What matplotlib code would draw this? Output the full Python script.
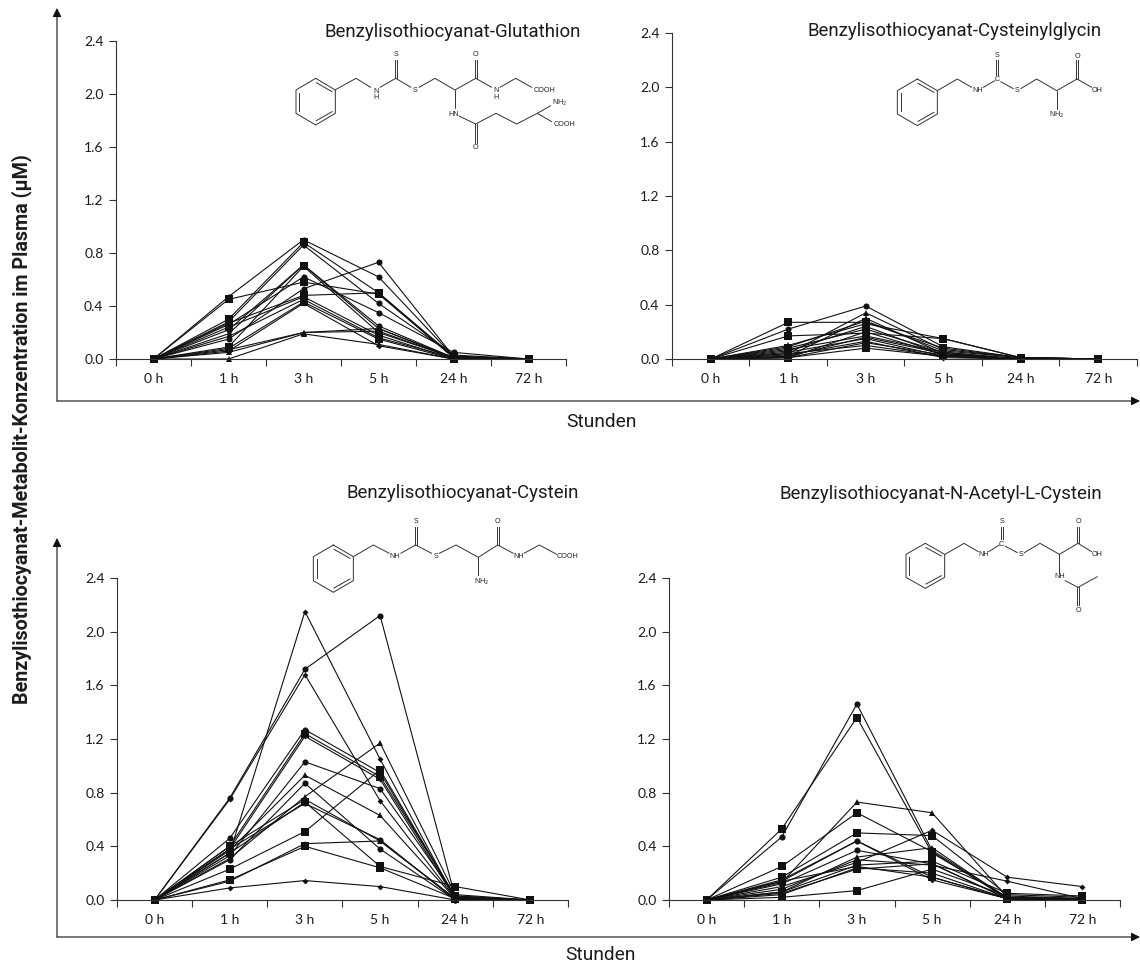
import matplotlib
matplotlib.use("Agg")
import matplotlib.pyplot as plt
from matplotlib.patches import FancyArrowPatch

W, H = 1140, 964
hours = ["0 h", "1 h", "3 h", "5 h", "24 h", "72 h"]
y_ticks = [0.0, 0.4, 0.8, 1.2, 1.6, 2.0, 2.4]

# values, one row per subject (0h, 1h, 3h, 5h, 24h, 72h)
glutathion = [
    [0, 0.47, 0.90, 0.62, 0.02, 0],
    [0, 0.28, 0.86, 0.42, 0.03, 0],
    [0, 0.22, 0.71, 0.25, 0.01, 0],
    [0, 0.15, 0.53, 0.73, 0.02, 0],
    [0, 0.26, 0.62, 0.35, 0.05, 0],
    [0, 0.07, 0.20, 0.23, 0.01, 0],
    [0, 0.05, 0.20, 0.21, 0.01, 0],
    [0, 0.19, 0.71, 0.23, 0.01, 0],
    [0, 0.17, 0.45, 0.16, 0.01, 0],
    [0, 0.06, 0.42, 0.10, 0.00, 0],
    [0, 0.00, 0.19, 0.11, 0.00, 0],
    [0, 0.45, 0.58, 0.49, 0.01, 0],
    [0, 0.30, 0.88, 0.50, 0.02, 0],
    [0, 0.09, 0.70, 0.20, 0.01, 0],
    [0, 0.27, 0.48, 0.50, 0.01, 0],
    [0, 0.24, 0.47, 0.18, 0.00, 0],
    [0, 0.08, 0.43, 0.15, 0.00, 0],
]
glutathion_markers = list("ooooo^^DDD^ssssss")

cysteinylglycin = [
    [0, 0.22, 0.39, 0.09, 0.01, 0],
    [0, 0.10, 0.26, 0.15, 0.01, 0],
    [0, 0.07, 0.17, 0.05, 0.00, 0],
    [0, 0.04, 0.34, 0.07, 0.01, 0],
    [0, 0.02, 0.30, 0.04, 0.00, 0],
    [0, 0.09, 0.28, 0.06, 0.01, 0],
    [0, 0.06, 0.24, 0.03, 0.00, 0],
    [0, 0.05, 0.15, 0.02, 0.00, 0],
    [0, 0.03, 0.13, 0.01, 0.00, 0],
    [0, 0.27, 0.27, 0.08, 0.01, 0],
    [0, 0.17, 0.19, 0.15, 0.01, 0],
    [0, 0.08, 0.22, 0.05, 0.00, 0],
    [0, 0.01, 0.20, 0.03, 0.00, 0],
    [0, 0.02, 0.16, 0.04, 0.00, 0],
    [0, 0.01, 0.12, 0.03, 0.00, 0],
    [0, 0.04, 0.10, 0.02, 0.00, 0],
    [0, 0.01, 0.08, 0.02, 0.00, 0],
]
cysteinylglycin_markers = list("o^^^^oDDDssssssss")

cystein = [
    [0, 0.35, 2.15, 1.05, 0.01, 0],
    [0, 0.76, 1.72, 2.12, 0.02, 0],
    [0, 0.75, 1.68, 0.74, 0.01, 0],
    [0, 0.46, 1.27, 0.95, 0.02, 0],
    [0, 0.38, 1.22, 0.90, 0.01, 0],
    [0, 0.33, 1.03, 0.83, 0.03, 0],
    [0, 0.37, 0.93, 0.63, 0.01, 0],
    [0, 0.30, 0.87, 0.38, 0.00, 0],
    [0, 0.31, 0.77, 1.17, 0.04, 0],
    [0, 0.40, 0.75, 0.44, 0.01, 0],
    [0, 0.38, 0.72, 0.45, 0.00, 0],
    [0, 0.14, 0.42, 0.44, 0.01, 0],
    [0, 0.09, 0.145, 0.10, 0.00, 0],
    [0, 0.40, 1.24, 0.92, 0.03, 0],
    [0, 0.35, 0.73, 0.25, 0.10, 0],
    [0, 0.23, 0.51, 0.97, 0.02, 0],
    [0, 0.15, 0.40, 0.24, 0.01, 0],
]
cystein_markers = list("DoDoDo^o^Do^Dssss")

acetylcystein = [
    [0, 0.47, 1.46, 0.37, 0.02, 0.01],
    [0, 0.13, 0.73, 0.65, 0.02, 0.01],
    [0, 0.15, 0.44, 0.15, 0.01, 0.00],
    [0, 0.14, 0.44, 0.17, 0.01, 0.00],
    [0, 0.12, 0.37, 0.27, 0.01, 0.00],
    [0, 0.10, 0.28, 0.52, 0.17, 0.10],
    [0, 0.08, 0.30, 0.26, 0.14, 0.01],
    [0, 0.06, 0.32, 0.39, 0.01, 0.00],
    [0, 0.04, 0.24, 0.20, 0.01, 0.00],
    [0, 0.53, 1.36, 0.35, 0.02, 0.01],
    [0, 0.25, 0.65, 0.36, 0.01, 0.00],
    [0, 0.17, 0.50, 0.48, 0.04, 0.02],
    [0, 0.02, 0.07, 0.23, 0.03, 0.01],
    [0, 0.06, 0.26, 0.29, 0.05, 0.03],
    [0, 0.14, 0.25, 0.17, 0.01, 0.00],
    [0, 0.05, 0.23, 0.27, 0.01, 0.00],
]
acetylcystein_markers = list("o^DooDD^D") + list("sssssss")

titles = ["Benzylisothiocyanat-Glutathion", "Benzylisothiocyanat-Cysteinylglycin",
          "Benzylisothiocyanat-Cystein", "Benzylisothiocyanat-N-Acetyl-L-Cystein"]

TEXT = "#1c1c1c"
COND = ["Roboto", "DejaVu Sans"]
plt.rcParams["font.family"] = ["Lato", "DejaVu Sans"]

fig = plt.figure(figsize=(W / 100, H / 100), dpi=100)

# overlay in pixel coordinates for the big axes, structures and free text
over = fig.add_axes([0, 0, 1, 1], zorder=5)
over.set_xlim(0, W)
over.set_ylim(H, 0)
over.axis("off")
over.patch.set_alpha(0)


def panel(left, right, top, bottom, rows, markers):
    ax = fig.add_axes([left / W, 1 - bottom / H, (right - left) / W, (bottom - top) / H])
    sizes = {"o": 4.4, "s": 5.2, "^": 4.6, "D": 3.0}
    for row, m in zip(rows, markers):
        ax.plot(range(len(hours)), row, color="#111111", lw=0.8, marker=m,
                ms=sizes[m], mew=0, clip_on=False)
    ax.set_xlim(-0.5, 5.5)
    ax.set_ylim(0, 2.4)
    ax.set_yticks(y_ticks)
    ax.set_yticklabels([f"{t:.1f}" for t in y_ticks], fontsize=10, color=TEXT)
    ax.set_xticks([i - 0.5 for i in range(7)])
    ax.set_xticklabels([])
    ax.tick_params(length=5, width=0.8, color="#333333", pad=4)
    for i, h in enumerate(hours):
        ax.text(i, -14 / (bottom - top), h, fontsize=10, color=TEXT, ha="center", va="top",
                transform=ax.get_xaxis_transform())
    for s in ["top", "right"]:
        ax.spines[s].set_visible(False)
    for s in ["left", "bottom"]:
        ax.spines[s].set_linewidth(0.8)
        ax.spines[s].set_color("#333333")
    return ax


panel(116, 566, 41, 359, glutathion, glutathion_markers)
panel(672, 1137, 33, 359, cysteinylglycin, cysteinylglycin_markers)
panel(117, 568, 578, 900, cystein, cystein_markers)
panel(669, 1120, 578, 900, acetylcystein, acetylcystein_markers)


def big_arrow(x0, y0, x1, y1):
    over.add_patch(FancyArrowPatch((x0, y0), (x1, y1), arrowstyle="-|>", mutation_scale=13,
                                   lw=0.8, color="#111111", shrinkA=0, shrinkB=0, clip_on=False))


for corner_y, tip_y in [(401, 8), (937, 538)]:
    big_arrow(57, corner_y, 57, tip_y)
    big_arrow(57, corner_y, 1140, corner_y)

over.text(601, 422, "Stunden", fontsize=13.8, color=TEXT, ha="center", va="center", family=COND)
over.text(600, 955, "Stunden", fontsize=13.8, color=TEXT, ha="center", va="center", family=COND)
over.text(22, 429, "Benzylisothiocyanat-Metabolit-Konzentration im Plasma (µM)", rotation=90,
          fontsize=14.2, fontweight="bold", color=TEXT, ha="center", va="center", family=COND)

for (tx, ty), t in zip([(581, 32), (1102, 31), (579, 493), (1102, 494)], titles):
    over.text(tx, ty, t, fontsize=13.4, color=TEXT, ha="right", va="center", family=COND)


# structures: coordinates in 3x units relative to the origin of each drawing
def molecule(ox, oy, paths, doubles, labels):
    pt = lambda p: (ox + p[0] / 3, oy + p[1] / 3)
    for path in paths:
        xs, ys = zip(*[pt(p) for p in path])
        over.plot(xs, ys, color="#333333", lw=0.7, solid_capstyle="round")
    for a, b in doubles:
        (xa, ya), (xb, yb) = pt(a), pt(b)
        over.plot([xa, xb], [ya, yb], color="#333333", lw=0.7)
    for x, y, s in labels:
        px, py = pt((x, y))
        over.text(px, py, s, fontsize=5.2, color="#222222", ha="center", va="center",
                  family=["Liberation Sans", "DejaVu Sans"])


def ring(cx, top, half, dy1, dy2, dy3):
    pts = [(cx, top), (cx + half, top + dy1), (cx + half, top + dy2), (cx, top + dy3),
           (cx - half, top + dy2), (cx - half, top + dy1), (cx, top)]
    inner = [((cx - half + 10, top + dy1 + 8), (cx - half + 10, top + dy2 - 8)),
             ((cx + 2, top + 13), (cx + half - 10, top + dy1 + 5)),
             ((cx + 2, top + dy3 - 13), (cx + half - 10, top + dy2 - 5))]
    return pts, inner


def updouble(x, y0, y1):
    return [((x - 3, y0), (x - 3, y1)), ((x + 3, y0), (x + 3, y1))]


r, inner = ring(107, 205, 59, 35, 105, 140)
molecule(280, 10,
         [r, [(165, 240), (228, 205), (272, 232)], [(300, 232), (347, 205), (393, 232)],
          [(417, 232), (465, 205), (525, 240), (587, 205), (635, 232)],
          [(660, 232), (707, 205), (755, 232)], [(525, 240), (525, 295)],
          [(537, 318), (587, 342), (648, 310), (710, 342), (772, 310), (812, 287)],
          [(772, 310), (815, 335)]],
         inner + updouble(347, 205, 150) + updouble(587, 205, 150) + updouble(587, 342, 398),
         [(288, 245, "N"), (288, 262, "H"), (347, 135, "S"), (405, 243, "S"), (587, 135, "O"),
          (648, 243, "N"), (648, 262, "H"), (795, 240, "COOH"), (520, 312, "HN"),
          (838, 280, "NH$_2$"), (855, 345, "COOH"), (587, 413, "O")])

r, inner = ring(112, 207, 60, 35, 105, 140)
molecule(880, 10,
         [r, [(172, 242), (232, 207), (275, 232)], [(310, 232), (345, 212)], [(362, 215), (400, 236)],
          [(422, 236), (470, 207), (530, 242), (591, 207), (635, 232)], [(530, 242), (530, 297)]],
         inner + updouble(351, 195, 150) + updouble(591, 207, 150),
         [(292, 243, "NH"), (351, 208, "C"), (351, 137, "S"), (411, 243, "S"), (591, 138, "O"),
          (652, 243, "OH"), (530, 314, "NH$_2$")])

r, inner = ring(100, 225, 60, 35, 107, 142)
molecule(300, 470,
         [r, [(160, 260), (220, 225), (268, 250)], [(302, 250), (347, 225), (395, 250)],
          [(418, 250), (468, 225), (535, 262), (593, 225), (640, 250)],
          [(672, 250), (718, 225), (770, 253)], [(535, 262), (535, 315)]],
         inner + updouble(347, 225, 170) + updouble(593, 225, 170),
         [(285, 261, "NH"), (347, 155, "S"), (407, 261, "S"), (593, 155, "O"), (655, 261, "NH"),
          (803, 261, "COOH"), (545, 335, "NH$_2$")])

r, inner = ring(106, 220, 58, 33, 102, 135)
molecule(890, 470,
         [r, [(165, 253), (222, 220), (265, 245)], [(296, 245), (328, 225)], [(345, 228), (382, 248)],
          [(403, 248), (450, 220), (508, 253), (564, 220), (605, 245)], [(508, 253), (508, 308)],
          [(525, 332), (564, 352), (622, 320)]],
         inner + updouble(335, 208, 170) + updouble(564, 220, 170) + updouble(564, 352, 405),
         [(280, 255, "NH"), (335, 222, "C"), (335, 155, "S"), (392, 255, "S"), (564, 155, "O"),
          (620, 255, "OH"), (508, 320, "NH"), (564, 420, "O")])

fig.savefig("out.png", dpi=100)
